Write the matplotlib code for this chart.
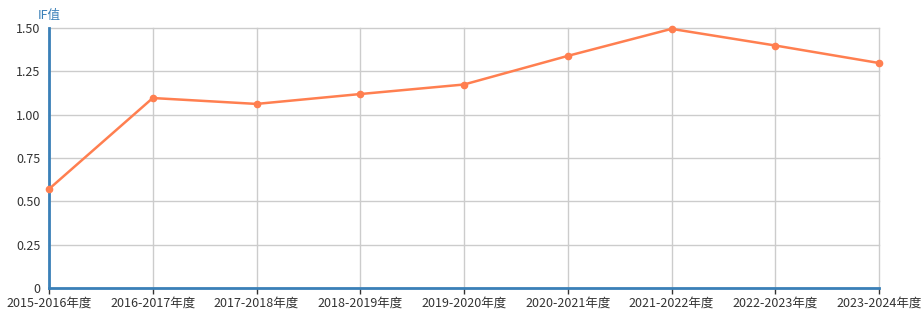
import matplotlib
matplotlib.use("agg")
import matplotlib.pyplot as plt

plt.rcParams['font.family'] = ['Noto Sans CJK SC', 'DejaVu Sans']

years = ['2015-2016年度', '2016-2017年度', '2017-2018年度', '2018-2019年度', '2019-2020年度',
         '2020-2021年度', '2021-2022年度', '2022-2023年度', '2023-2024年度']
if_values = [0.571, 1.096, 1.062, 1.119, 1.174, 1.339, 1.495, 1.399, 1.298]
y_ticks = [0, 0.25, 0.5, 0.75, 1.0, 1.25, 1.5]
y_labels = ['0', '0.25', '0.50', '0.75', '1.00', '1.25', '1.50']

fig = plt.figure(figsize=(9.23, 3.24), dpi=100)
ax = fig.add_axes([49/923, 36/324, 830/923, 260/324])

x = list(range(len(years)))
ax.plot(x, if_values, color='#ff7f50', linewidth=1.8, marker='o', markersize=4.5, zorder=3, clip_on=False)

ax.set_xlim(0, len(years) - 1)
ax.set_ylim(0, 1.5)
ax.set_xticks(x)
ax.set_xticklabels(years)
ax.set_yticks(y_ticks)
ax.set_yticklabels(y_labels)
ax.grid(True, color='#cccccc', linewidth=1)
ax.set_axisbelow(True)
for gl in ax.get_xgridlines() + ax.get_ygridlines():
    gl.set_clip_on(False)

for s in ['top', 'right']:
    ax.spines[s].set_visible(False)
for s in ['left', 'bottom']:
    ax.spines[s].set_color('#3a80b8')
    ax.spines[s].set_linewidth(2)

ax.tick_params(axis='x', length=4, width=1, color='#333333', labelsize=9, labelcolor='#333333', pad=2)
ax.tick_params(axis='y', length=0, labelsize=9, labelcolor='#333333', pad=6)

fig.text(38/923, 1 - 16/324, 'IF值', color='#3a80b8', fontsize=9, va='center', ha='left')

plt.savefig('out.png', dpi=100)
plt.close()
